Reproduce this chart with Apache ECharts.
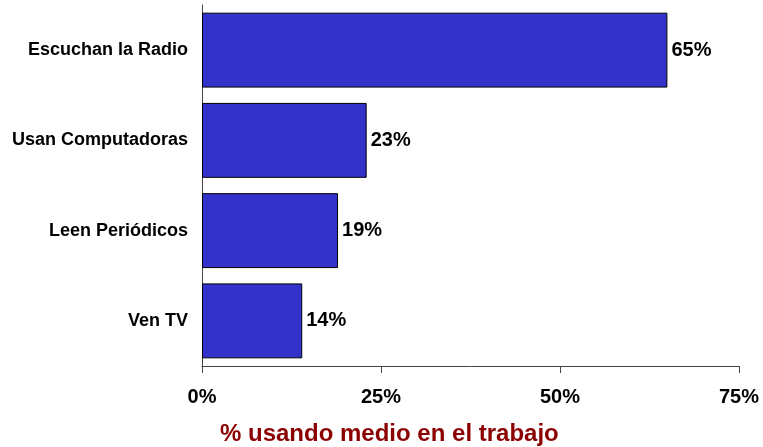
<!DOCTYPE html>
<html><head><meta charset="utf-8">
<script src="https://cdn.jsdelivr.net/npm/echarts@6/dist/echarts.min.js"></script>
<style>html,body{margin:0;padding:0;background:#fff}#c{width:763px;height:447px}</style>
</head><body><div id="c"></div>
<script>
const categories = ["Escuchan la Radio", "Usan Computadoras", "Leen Periódicos", "Ven TV"];
const values = [65, 23, 19, 14];
const xTicks = [0, 25, 50, 75];
const axisTitle = "% usando medio en el trabajo";

const chart = echarts.init(document.getElementById('c'));
chart.setOption({
  animation: false,
  backgroundColor: '#fff',
  title: {
    text: axisTitle, left: 215, top: 417,
    textStyle: { fontFamily: 'Liberation Sans', fontWeight: 'bold', fontSize: 24, color: '#8B0000' }
  },
  grid: { left: 202, right: 24, top: 5, bottom: 81 },
  xAxis: {
    type: 'value', min: xTicks[0], max: xTicks[xTicks.length - 1], interval: 25,
    splitLine: { show: false },
    axisLine: { show: true, lineStyle: { color: '#444', width: 1 } },
    axisTick: { show: true, length: 7, lineStyle: { color: '#444' } },
    axisLabel: { margin: 21, formatter: v => v + '%', fontFamily: 'Liberation Sans', fontWeight: 'bold', fontSize: 20, color: '#000' }
  },
  yAxis: {
    type: 'category', data: categories, inverse: true,
    axisLine: { show: true, lineStyle: { color: '#444', width: 1 } },
    axisTick: { show: false },
    axisLabel: { margin: 14, fontFamily: 'Liberation Sans', fontWeight: 'bold', fontSize: 18, color: '#000' }
  },
  series: [{
    type: 'bar', data: values, barCategoryGap: '17%',
    itemStyle: { color: '#3333CC', borderColor: '#000', borderWidth: 1 },
    label: { show: true, position: 'right', distance: 4, formatter: p => p.value + '%', fontFamily: 'Liberation Sans', fontWeight: 'bold', fontSize: 20, color: '#000' }
  }]
});
</script></body></html>
